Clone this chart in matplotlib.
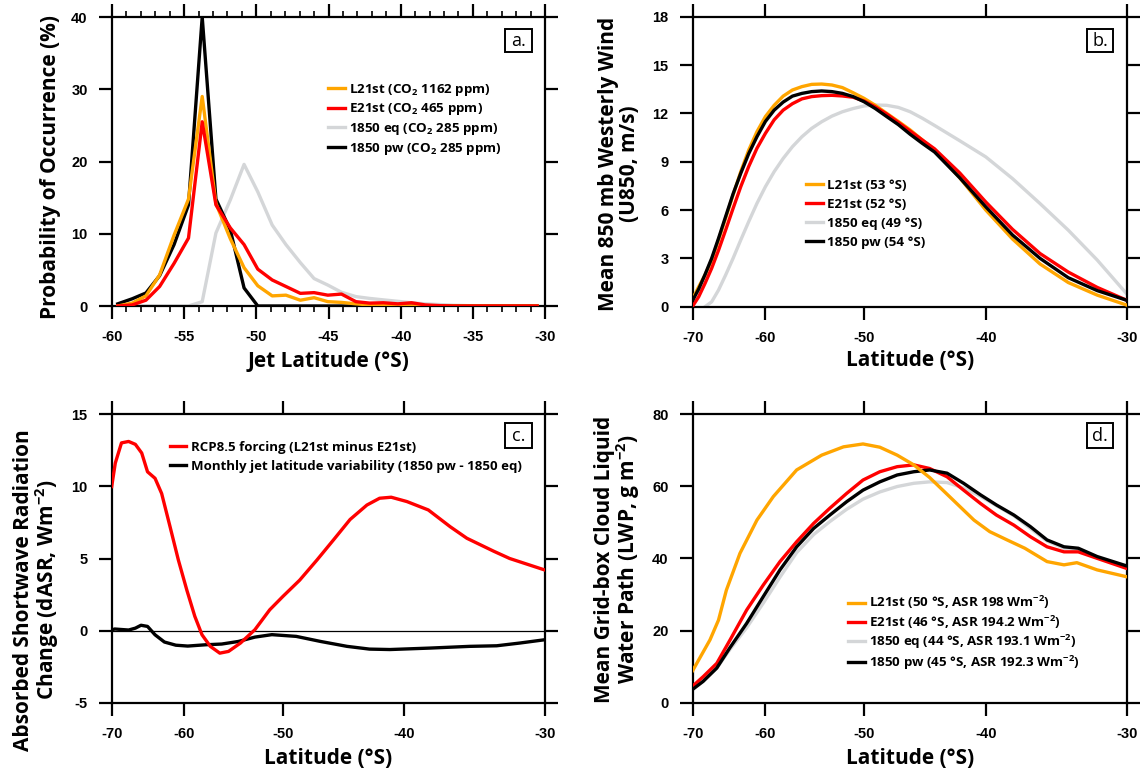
import numpy as np
import matplotlib
matplotlib.use('Agg')
import matplotlib.pyplot as plt
from matplotlib.patches import Rectangle

plt.rcParams['font.family'] = ['Open Sans', 'DejaVu Sans']
plt.rcParams['mathtext.default'] = 'regular'
plt.rcParams['axes.unicode_minus'] = False

# ---------------- data ----------------
# panel a: jet latitude histogram
lat_a = [-59.6, -58.6, -57.65, -56.7, -55.7, -54.7, -53.75, -52.8, -51.8, -50.85,
         -49.9, -48.9, -47.95, -46.95, -46.0, -45.05, -44.1, -43.1, -42.15, -41.2,
         -40.2, -39.25, -38.3, -37.3, -36.35, -35.4, -34.4, -33.45, -32.5, -31.5, -30.55]
a_l21 = [0.0, 0.4, 1.4, 4.3, 9.8, 14.8, 29.0, 14.2, 9.3, 5.3,
         2.8, 1.4, 1.5, 0.8, 1.15, 0.6, 0.5, 0.3, 0.15, 0.1,
         0.05, 0, 0, 0, 0, 0, 0, 0, 0, 0, 0]
a_e21 = [0.0, 0.15, 0.8, 2.7, 5.9, 9.4, 25.5, 14.0, 10.8, 8.5,
         5.1, 3.6, 2.7, 1.75, 1.85, 1.5, 1.65, 0.6, 0.4, 0.45,
         0.3, 0.45, 0.15, 0.05, 0, 0, 0, 0, 0, 0, 0]
a_eq = [0, 0, 0, 0, 0, 0, 0.6, 10.1, 14.7, 19.6,
        15.8, 11.2, 8.5, 6.0, 3.8, 2.9, 1.9, 1.3, 1.05, 0.85,
        0.65, 0.45, 0.3, 0.2, 0.1, 0.05, 0, 0, 0, 0, 0]
a_pw = [0.3, 1.0, 1.8, 4.2, 8.5, 14.0, 40.0, 14.8, 10.5, 2.5,
        0, 0, 0, 0, 0, 0, 0, 0, 0, 0,
        0, 0, 0, 0, 0, 0, 0, 0, 0, 0, 0]

# panel b: U850
lat_b = [-70, -69, -68, -67, -66, -65, -64, -63, -62, -61, -60, -59, -58, -57,
         -56, -55, -54, -53, -52, -51, -50, -49, -48, -47, -46, -45,
         -44, -42, -40, -38, -36, -34, -32, -30]
b_l21 = [0.5, 1.24, 1.97, 2.9, 4.14, 5.5, 6.93, 8.38, 9.72, 10.86, 11.8, 12.5, 13.07, 13.45,
         13.66, 13.8, 13.82, 13.76, 13.6, 13.28, 12.93, 12.5, 12.0, 11.5, 10.97, 10.35,
         9.7, 8.0, 6.0, 4.2, 2.65, 1.5, 0.72, 0.1]
b_e21 = [0.04, 0.62, 1.45, 2.38, 3.5, 4.76, 6.1, 7.45, 8.7, 9.83, 10.76, 11.6, 12.2, 12.6,
         12.9, 13.04, 13.1, 13.12, 13.08, 13.0, 12.77, 12.4, 11.96, 11.44, 10.9, 10.35,
         9.8, 8.3, 6.5, 4.8, 3.3, 2.15, 1.2, 0.4]
b_pw = [0.4, 1.1, 2.0, 3.0, 4.24, 5.6, 7.0, 8.28, 9.5, 10.55, 11.5, 12.2, 12.7, 13.07,
        13.24, 13.35, 13.39, 13.35, 13.24, 13.04, 12.72, 12.3, 11.8, 11.3, 10.7, 10.14,
        9.6, 8.0, 6.2, 4.45, 3.0, 1.8, 1.0, 0.4]
lat_b_eq = [-68, -67, -66, -65, -64, -63, -62, -61, -60, -59, -58, -57,
            -56, -55, -54, -53, -52, -51, -50, -49, -48, -47, -46, -45,
            -44, -42, -40, -38, -36, -34, -32, -30]
b_eq = [0.0, 0.3, 1.03, 1.97, 3.0, 4.14, 5.28, 6.41, 7.45, 8.38, 9.2, 9.93,
        10.55, 11.07, 11.48, 11.83, 12.1, 12.3, 12.46, 12.52, 12.5, 12.37, 12.1, 11.7,
        11.25, 10.3, 9.3, 7.95, 6.4, 4.75, 2.9, 0.8]

# panel c: dASR
lat_c_rcp = [-70, -69.4, -68.4, -67.3, -66.3, -65.4, -64.6, -63.6, -62.75, -61.7,
             -60.7, -59.7, -58.8, -58.0, -57.1, -56.1, -55.2, -54.0, -52.6, -51.2,
             -50.0, -48.5, -47.0, -45.6, -44.25, -42.9, -41.9, -41.0, -39.8, -38.2,
             -36.6, -35.4, -33.5, -32.4, -30]
c_rcp = [9.98, 11.6, 13.0, 13.1, 12.9, 12.3, 11.0, 10.55, 9.5, 7.2,
         4.9, 2.8, 1.0, -0.28, -1.08, -1.55, -1.43, -0.85, 0.07, 1.45,
         2.37, 3.5, 4.9, 6.3, 7.7, 8.7, 9.17, 9.24, 8.94, 8.36,
         7.2, 6.4, 5.5, 5.0, 4.2]
lat_c_var = [-70, -69.5, -67.3, -66.3, -65.5, -64.6, -63.6, -62.4, -61.0, -59.6,
             -57.6, -55.9, -54.2, -52.6, -51.0, -48.8, -46.7, -44.5, -42.7, -41.1,
             -38.1, -35.2, -33.3, -31.7, -30]
c_var = [0.05, 0.12, 0.05, 0.18, 0.38, 0.3, -0.28, -0.78, -1.0, -1.06,
         -0.97, -0.92, -0.74, -0.44, -0.27, -0.39, -0.74, -1.08, -1.27, -1.3,
         -1.2, -1.08, -1.04, -0.85, -0.62]

# panel d: LWP
lat_d_l21 = [-70, -67.25, -66.0, -64.9, -63.1, -61.0, -59.1, -56.55, -54.0, -51.9,
             -50.1, -48.6, -47.1, -45.7, -44.4, -42.8, -40.9, -39.7, -38.4, -37.1,
             -35.5, -34.3, -33.4, -32.0, -30]
d_l21 = [8.9, 17.4, 22.9, 31.2, 41.4, 50.6, 57.1, 64.5, 68.6, 70.9,
         71.7, 70.8, 68.6, 65.9, 62.4, 57.1, 50.6, 47.4, 45.1, 42.8,
         39.1, 38.2, 38.8, 36.8, 34.9]
lat_d = [-70, -68.3, -66.25, -64.4, -62.25, -60.25, -58.35, -56.55, -54.8, -53.2,
         -51.6, -50.1, -48.6, -47.1, -45.7, -44.4, -43.0, -41.7, -40.4, -39.2,
         -37.9, -36.7, -35.5, -34.3, -33.3, -32.0, -30]
d_e21 = [4.6, 7.2, 10.9, 17.4, 25.7, 32.6, 39.1, 44.6, 49.7, 53.9,
         58.0, 61.7, 64.0, 65.4, 65.9, 64.9, 62.6, 58.9, 55.2, 52.0,
         49.2, 46.0, 43.2, 41.8, 41.8, 40.0, 37.2]
d_eq = [4.0, 6.3, 9.6, 14.8, 20.8, 27.6, 34.8, 41.6, 46.6, 50.2,
        53.6, 56.4, 58.4, 59.9, 60.8, 61.2, 61.0, 59.5, 57.2, 54.6,
        51.8, 48.3, 44.8, 42.8, 42.3, 40.2, 37.6]
d_pw = [3.7, 5.9, 9.6, 15.3, 22.0, 29.4, 36.8, 43.2, 48.3, 52.0,
        55.7, 58.9, 61.2, 63.1, 64.0, 64.5, 63.6, 60.8, 57.6, 54.8,
        52.0, 48.8, 45.1, 43.2, 42.8, 40.5, 37.9]

labels_a = ['L21st (CO$_2$ 1162 ppm)', 'E21st (CO$_2$ 465 ppm)',
            '1850 eq (CO$_2$ 285 ppm)', '1850 pw (CO$_2$ 285 ppm)']
labels_b = ['L21st (53 °S)', 'E21st (52 °S)', '1850 eq (49 °S)', '1850 pw (54 °S)']
labels_c = ['RCP8.5 forcing (L21st minus E21st)',
            'Monthly jet latitude variability (1850 pw - 1850 eq)']
labels_d = ['L21st (50 °S, ASR 198 Wm$^{-2}$)', 'E21st (46 °S, ASR 194.2 Wm$^{-2}$)',
            '1850 eq (44 °S, ASR 193.1 Wm$^{-2}$)', '1850 pw (45 °S, ASR 192.3 Wm$^{-2}$)']

a_xticks = [-60, -55, -50, -45, -40, -35, -30]
a_yticks = [0, 10, 20, 30, 40]
lat_ticks = [-70, -60, -50, -40, -30]
b_yticks = [0, 3, 6, 9, 12, 15, 18]
c_yticks = [-5, 0, 5, 10, 15]
d_yticks = [0, 20, 40, 60, 80]

COL_L21 = '#FFA500'
COL_E21 = '#FF0000'
COL_EQ = '#D4D6D8'
COL_PW = '#000000'
LW = 2.4

W, H = 1141, 774
fig = plt.figure(figsize=(W / 100, H / 100), dpi=100)


def rect(l, t, r, b):
    return [l / W, 1 - b / H, (r - l) / W, (b - t) / H]


def fwd(x):
    return np.sin(np.deg2rad(x))


def inv(y):
    return np.rad2deg(np.arcsin(np.clip(y, -1, 1)))


TICKFONT = dict(fontfamily='Liberation Sans', fontweight='bold', fontsize=10.5)


def style(ax, xt, yt):
    for s in ax.spines.values():
        s.set_linewidth(1.6)
    ax.set_xticks(xt, [str(v) for v in xt], **TICKFONT)
    ax.set_yticks(yt, [str(v) for v in yt], **TICKFONT)
    ax.tick_params(which='major', direction='out', length=9.5, width=1.6,
                   top=True, right=True, labeltop=False, labelright=False)
    ax.tick_params(which='minor', direction='out', length=4, width=1.2,
                   top=True, right=True)
    ax.tick_params(axis='x', pad=8)
    ax.tick_params(axis='y', pad=8)


def panel_label(txt, l, t, r, b):
    fig.patches.append(Rectangle((l / W, 1 - b / H), (r - l) / W, (b - t) / H,
                                 transform=fig.transFigure, fc='white', ec='black',
                                 lw=1.4, zorder=10))
    fig.text((l + r) / 2 / W, 1 - ((t + b) / 2 + 0.5) / H, txt, ha='center', va='center',
             fontsize=13, zorder=11)


LEGPROP = dict(weight='bold', size=9.6)
LEGKW = dict(frameon=False, prop=LEGPROP, handlelength=1.3, handletextpad=0.25,
             borderpad=0, borderaxespad=0, loc='upper left',
             bbox_transform=fig.transFigure)

# ---- panel a ----
ax = fig.add_axes(rect(112, 17, 545, 306))
ax.plot(lat_a, a_eq, color=COL_EQ, lw=LW, label=labels_a[2], zorder=2)
ax.plot(lat_a, a_pw, color=COL_PW, lw=LW, label=labels_a[3], zorder=3)
ax.plot(lat_a, a_l21, color=COL_L21, lw=LW, label=labels_a[0], zorder=4)
ax.plot(lat_a, a_e21, color=COL_E21, lw=LW, label=labels_a[1], zorder=5)
ax.set_xlim(-60, -30)
ax.set_ylim(0, 40)
style(ax, a_xticks, a_yticks)
ax.set_xticks(np.arange(-60, -29, 1), minor=True)
h, l = ax.get_legend_handles_labels()
order = [2, 3, 0, 1]
ax.legend([h[i] for i in order], [l[i] for i in order],
          bbox_to_anchor=(328 / W, 1 - 81.5 / H), labelspacing=0.28, **LEGKW)
panel_label('a.', 505, 29, 532, 52)

# ---- panel b ----
ax = fig.add_axes(rect(692.7, 16.7, 1126.7, 306.7))
ax.set_xscale('function', functions=(fwd, inv))
ax.plot(lat_b_eq, b_eq, color=COL_EQ, lw=LW, label=labels_b[2], zorder=2)
ax.plot(lat_b, b_l21, color=COL_L21, lw=LW, label=labels_b[0], zorder=3)
ax.plot(lat_b, b_e21, color=COL_E21, lw=LW, label=labels_b[1], zorder=4)
ax.plot(lat_b, b_pw, color=COL_PW, lw=LW, label=labels_b[3], zorder=5)
ax.set_xlim(-70, -30)
ax.set_ylim(0, 18)
style(ax, lat_ticks, b_yticks)
ax.xaxis.set_minor_locator(matplotlib.ticker.NullLocator())
h, l = ax.get_legend_handles_labels()
order = [1, 2, 0, 3]
ax.legend([h[i] for i in order], [l[i] for i in order],
          bbox_to_anchor=(806 / W, 1 - 179 / H), labelspacing=0.45, **LEGKW)
panel_label('b.', 1087, 29, 1113, 52)

# ---- panel c ----
ax = fig.add_axes(rect(111.7, 414, 545, 703))
ax.set_xscale('function', functions=(fwd, inv))
ax.axhline(0, color='black', lw=0.9, zorder=1)
ax.plot(lat_c_rcp, c_rcp, color=COL_E21, lw=LW, label=labels_c[0], zorder=3)
ax.plot(lat_c_var, c_var, color=COL_PW, lw=LW, label=labels_c[1], zorder=2)
ax.set_xlim(-70, -30)
ax.set_ylim(-5, 15)
style(ax, lat_ticks, c_yticks)
ax.xaxis.set_minor_locator(matplotlib.ticker.NullLocator())
ax.legend(loc='upper left', bbox_to_anchor=(170 / W, 1 - 441 / H),
          bbox_transform=fig.transFigure, frameon=False,
          prop=dict(weight='bold', size=9.5), handlelength=1.25, handletextpad=0.35,
          labelspacing=0.42, borderpad=0, borderaxespad=0)
panel_label('c.', 505, 423, 532, 448)

# ---- panel d ----
ax = fig.add_axes(rect(692.7, 414, 1126.7, 702.7))
ax.set_xscale('function', functions=(fwd, inv))
ax.plot(lat_d, d_eq, color=COL_EQ, lw=LW, label=labels_d[2], zorder=2)
ax.plot(lat_d, d_e21, color=COL_E21, lw=LW, label=labels_d[1], zorder=3)
ax.plot(lat_d, d_pw, color=COL_PW, lw=LW, label=labels_d[3], zorder=4)
ax.plot(lat_d_l21, d_l21, color=COL_L21, lw=LW, label=labels_d[0], zorder=5)
ax.set_xlim(-70, -30)
ax.set_ylim(0, 80)
style(ax, lat_ticks, d_yticks)
ax.xaxis.set_minor_locator(matplotlib.ticker.NullLocator())
h, l = ax.get_legend_handles_labels()
order = [3, 1, 0, 2]
ax.legend([h[i] for i in order], [l[i] for i in order],
          bbox_to_anchor=(848 / W, 1 - 594 / H), labelspacing=0.17, **LEGKW)
panel_label('d.', 1087, 423, 1113, 448)

# ---- axis labels ----
LAB = dict(fontsize=15, fontweight='bold', ha='center', va='center')
fig.text(328 / W, 1 - 361 / H, 'Jet Latitude (°S)', **LAB)
fig.text(909.7 / W, 1 - 361 / H, 'Latitude (°S)', **LAB)
fig.text(328 / W, 1 - 758 / H, 'Latitude (°S)', **LAB)
fig.text(909.7 / W, 1 - 758 / H, 'Latitude (°S)', **LAB)
fig.text(51 / W, 1 - 167 / H, 'Probability of Occurrence (%)', rotation=90, **LAB)
fig.text(619 / W, 1 - 164 / H, 'Mean 850 mb Westerly Wind\n(U850, m/s)', rotation=90,
         linespacing=1.0, **LAB)
fig.text(37 / W, 1 - 590 / H, 'Absorbed Shortwave Radiation\nChange (dASR, Wm$^{-2}$)',
         rotation=90, linespacing=1.0, **LAB)
fig.text(618 / W, 1 - 559 / H, 'Mean Grid-box Cloud Liquid\nWater Path (LWP, g m$^{-2}$)',
         rotation=90, linespacing=1.0, **LAB)

fig.savefig('out.png', dpi=100)
